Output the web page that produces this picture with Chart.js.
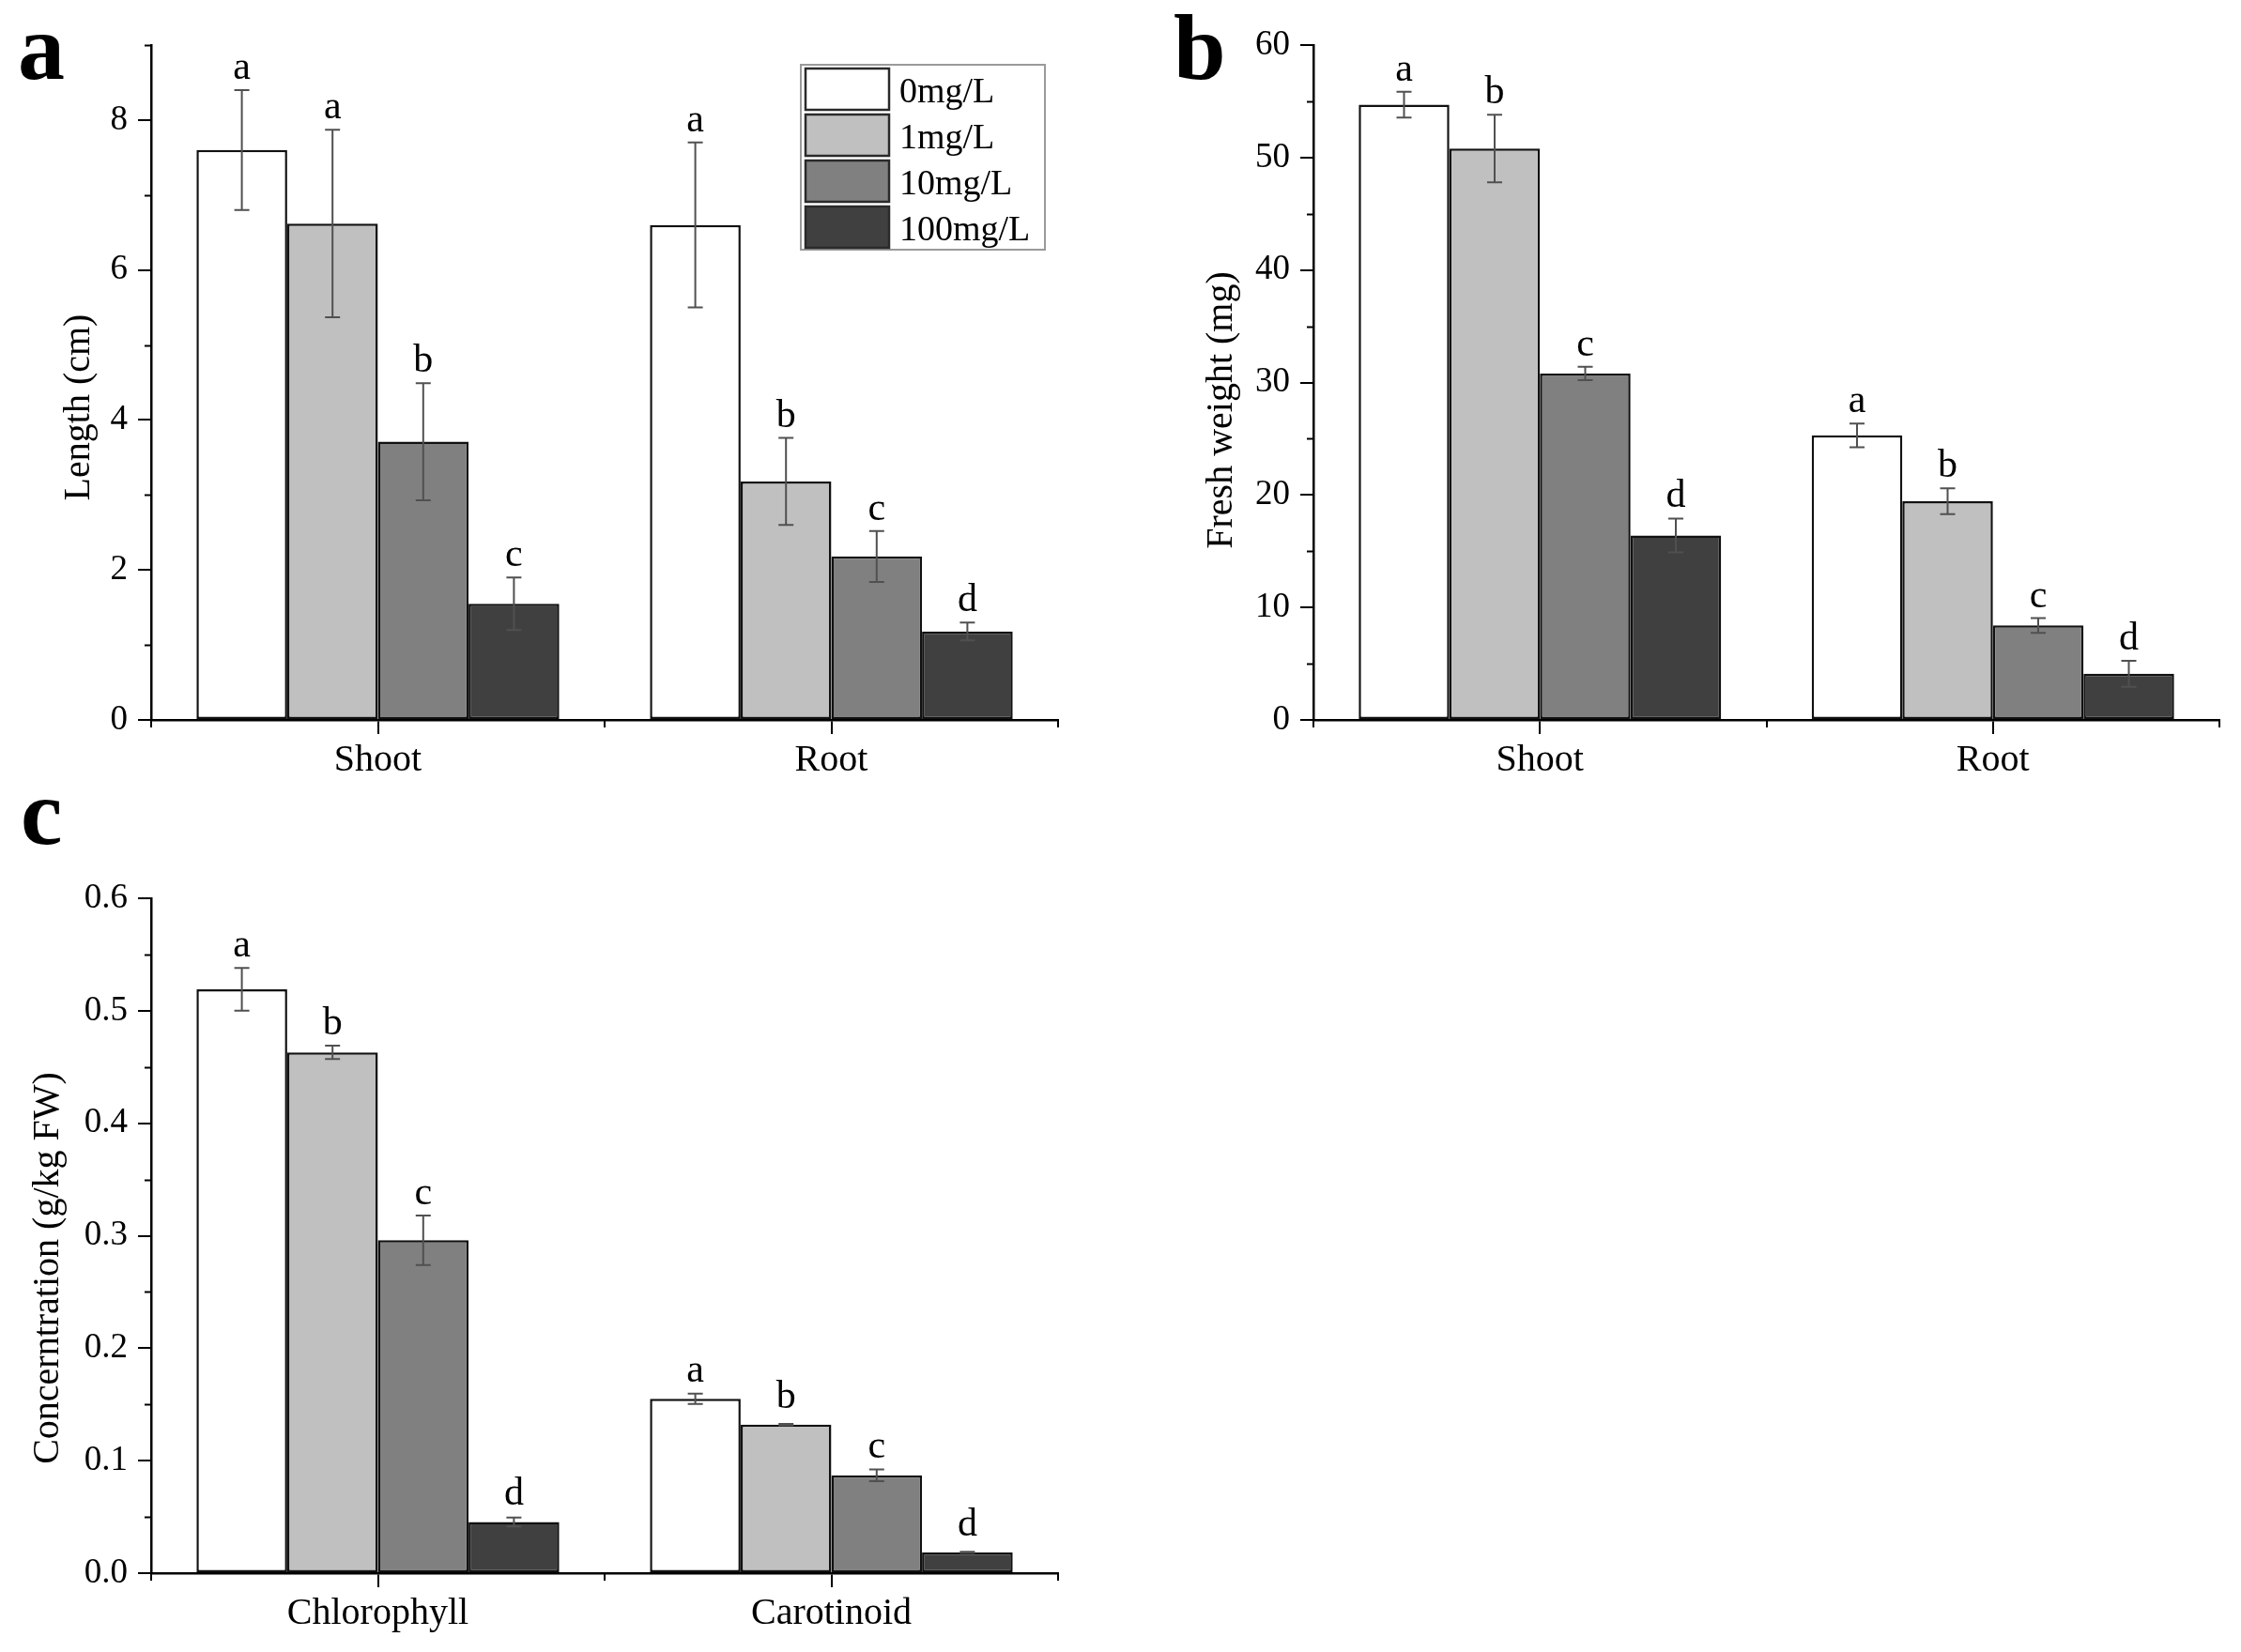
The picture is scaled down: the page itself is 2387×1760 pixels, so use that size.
<!DOCTYPE html>
<html><head><meta charset="utf-8">
<script src="https://cdn.jsdelivr.net/npm/chart.js@4.4.1/dist/chart.umd.min.js"></script>
<style>
html,body{margin:0;padding:0;background:#fff;width:2387px;height:1760px;overflow:hidden;}
.panel{position:absolute;}
.plabel{position:absolute;font-family:'Liberation Serif';font-weight:bold;font-size:100px;line-height:100px;color:#000;}
</style></head><body>
<div class="plabel" style="left:19px;top:1px">a</div>
<div class="plabel" style="left:1250px;top:1px">b</div>
<div class="plabel" style="left:22px;top:816px">c</div>
<div class="panel" style="left:0;top:0"><canvas id="ca" width="1190" height="860"></canvas></div>
<div class="panel" style="left:1190px;top:0"><canvas id="cb" width="1197" height="860"></canvas></div>
<div class="panel" style="left:0;top:860px"><canvas id="cc" width="1190" height="900"></canvas></div>
<script>
// ---- data ----
const seriesNames = ['0mg/L', '1mg/L', '10mg/L', '100mg/L'];
const seriesColors = ['#ffffff', '#c0c0c0', '#808080', '#404040'];

const catsA = ['Shoot', 'Root'];
const lenA0 = [7.6, 6.6],   lenE0 = [0.8, 1.1];
const lenA1 = [6.62, 3.18], lenE1 = [1.25, 0.58];
const lenA2 = [3.71, 2.18], lenE2 = [0.78, 0.34];
const lenA3 = [1.55, 1.18], lenE3 = [0.35, 0.12];
const letA = [['a', 'a'], ['a', 'b'], ['b', 'c'], ['c', 'd']];

const catsB = ['Shoot', 'Root'];
const fwB0 = [54.7, 25.3],  fwE0 = [1.15, 1.05];
const fwB1 = [50.8, 19.45], fwE1 = [3.0, 1.15];
const fwB2 = [30.8, 8.4],   fwE2 = [0.6, 0.65];
const fwB3 = [16.4, 4.1],   fwE3 = [1.5, 1.15];
const letB = [['a', 'a'], ['b', 'b'], ['c', 'c'], ['d', 'd']];

const catsC = ['Chlorophyll', 'Carotinoid'];
const coC0 = [0.519, 0.155], coE0 = [0.019, 0.0045];
const coC1 = [0.463, 0.132], coE1 = [0.006, 0.0006];
const coC2 = [0.296, 0.087], coE2 = [0.022, 0.0053];
const coC3 = [0.0455, 0.0185], coE3 = [0.004, 0.0004];
const letC = [['a', 'a'], ['b', 'b'], ['c', 'c'], ['d', 'd']];

// ---- rendering ----
const FAMILY = "'Liberation Serif', serif";
const FONT = FAMILY;
Chart.defaults.font.family = FAMILY;
Chart.defaults.color = '#000';

const annot = {
  id: 'annot',
  afterDraw(chart) {
    const o = chart.options.plugins.annot;
    const ctx = chart.ctx, ys = chart.scales.y, xs = chart.scales.x, area = chart.chartArea;
    ctx.save();
    // minor ticks on y
    ctx.strokeStyle = '#000'; ctx.lineWidth = 2;
    ctx.beginPath();
    for (let v = o.minorStart; v <= ys.max + 1e-9; v += o.majorStep) {
      const y = Math.round(ys.getPixelForValue(v)) + 0.5;
      ctx.moveTo(area.left - 7, y); ctx.lineTo(area.left, y);
    }
    // minor ticks on x at category boundaries
    for (let i = 0; i <= chart.data.labels.length; i++) {
      const x = Math.round(xs.getPixelForValue(i - 0.5));
      ctx.moveTo(x, area.bottom); ctx.lineTo(x, area.bottom + 8);
    }
    ctx.stroke();
    // error bars + letters
    o.errors.forEach((errs, i) => {
      const meta = chart.getDatasetMeta(i);
      const vals = chart.data.datasets[i].data;
      meta.data.forEach((bar, j) => {
        const v = vals[j], e = errs[j];
        const yt = ys.getPixelForValue(v + e), yb = ys.getPixelForValue(v - e);
        ctx.strokeStyle = '#505050'; ctx.lineWidth = 2;
        ctx.beginPath();
        ctx.moveTo(bar.x, yt); ctx.lineTo(bar.x, yb);
        ctx.moveTo(bar.x - 8, yt); ctx.lineTo(bar.x + 8, yt);
        ctx.moveTo(bar.x - 8, yb); ctx.lineTo(bar.x + 8, yb);
        ctx.stroke();
        ctx.fillStyle = '#000';
        ctx.font = '42px ' + FONT;
        ctx.textAlign = 'center'; ctx.textBaseline = 'alphabetic';
        ctx.fillText(o.letters[i][j], bar.x, Math.min(yt, ys.getPixelForValue(v) - 6) - 12);
      });
    });
    // y title
    ctx.save();
    ctx.translate(o.titleX, o.titleY);
    ctx.rotate(-Math.PI / 2);
    ctx.font = '40px ' + FONT;
    ctx.fillStyle = '#000';
    ctx.textAlign = 'center'; ctx.textBaseline = 'middle';
    ctx.fillText(o.title, 0, 0);
    ctx.restore();
    // legend
    if (o.legend) {
      const bl = area.right - 274, bt = area.top + 21, bw = 260, bh = 197;
      ctx.strokeStyle = '#9a9a9a'; ctx.lineWidth = 2;
      ctx.strokeRect(bl, bt, bw, bh);
      chart.data.datasets.forEach((ds, i) => {
        const sy = bt + 4 + 49 * i;
        ctx.fillStyle = ds.backgroundColor;
        ctx.fillRect(bl + 5, sy, 89, 44);
        ctx.strokeStyle = '#2a2a2a'; ctx.lineWidth = 2.5;
        ctx.strokeRect(bl + 5, sy, 89, 44);
        ctx.fillStyle = '#000';
        ctx.font = '38px ' + FONT;
        ctx.textAlign = 'left'; ctx.textBaseline = 'alphabetic';
        ctx.fillText(ds.label, bl + 105, sy + 36);
      });
    }
    ctx.restore();
  }
};

function makeChart(id, cats, series, errors, letters, cfg) {
  const datasets = series.map((d, i) => ({
    label: seriesNames[i], data: d,
    backgroundColor: seriesColors[i], borderColor: '#111', borderWidth: 2.5,
    borderSkipped: false,
    categoryPercentage: 0.8, barPercentage: 1.0
  }));
  return new Chart(document.getElementById(id), {
    type: 'bar',
    data: { labels: cats, datasets },
    options: {
      responsive: false, animation: false, devicePixelRatio: 1,
      font: { family: FAMILY },
      layout: { padding: { top: cfg.padTop, right: cfg.padRight, left: 0, bottom: 0 } },
      plugins: {
        legend: { display: false }, tooltip: { enabled: false },
        annot: { errors, letters, title: cfg.title, titleX: cfg.titleX, titleY: cfg.titleY,
                 legend: cfg.legend, minorStart: cfg.minorStart, majorStep: cfg.step }
      },
      scales: {
        x: {
          grid: { display: true, drawOnChartArea: false, drawTicks: true, tickLength: 15, offset: false,
                  color: '#000', lineWidth: 2 },
          border: { display: true, color: '#000', width: 2.5 },
          ticks: { font: { family: FAMILY, size: 40 }, color: '#000', padding: 4, maxRotation: 0 },
          afterFit(s) { s.height = cfg.xHeight; }
        },
        y: {
          min: 0, max: cfg.max,
          grid: { display: true, drawOnChartArea: false, drawTicks: true, tickLength: 14,
                  color: '#000', lineWidth: 2 },
          border: { display: true, color: '#000', width: 2.5 },
          ticks: { stepSize: cfg.step, includeBounds: false, font: { family: FAMILY, size: 37 }, color: '#000', padding: 11,
                   callback: v => cfg.fmt(v) },
          afterFit(s) { s.width = cfg.yWidth; }
        }
      }
    },
    plugins: [annot]
  });
}

makeChart('ca', catsA, [lenA0, lenA1, lenA2, lenA3], [lenE0, lenE1, lenE2, lenE3], letA, {
  padTop: 48, padRight: 63, xHeight: 93, yWidth: 161, max: 9, step: 2, minorStart: 1,
  fmt: v => String(v), title: 'Length (cm)', titleX: 84, titleY: 434, legend: true
});
makeChart('cb', catsB, [fwB0, fwB1, fwB2, fwB3], [fwE0, fwE1, fwE2, fwE3], letB, {
  padTop: 48, padRight: 23, xHeight: 93, yWidth: 209, max: 60, step: 10, minorStart: 5,
  fmt: v => String(v), title: 'Fresh weight (mg)', titleX: 111, titleY: 437, legend: false
});
makeChart('cc', catsC, [coC0, coC1, coC2, coC3], [coE0, coE1, coE2, coE3], letC, {
  padTop: 97, padRight: 63, xHeight: 84, yWidth: 161, max: 0.6, step: 0.1, minorStart: 0.05,
  fmt: v => v.toFixed(1), title: 'Concerntration (g/kg FW)', titleX: 51, titleY: 491, legend: false
});
</script>
</body></html>
